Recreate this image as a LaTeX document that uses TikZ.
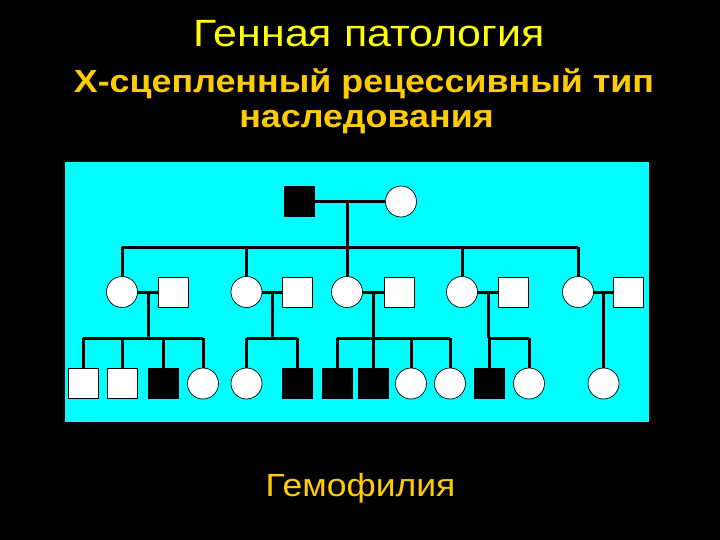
\documentclass[tikz,border=0pt]{standalone}
\usepackage{fontspec}
\setmainfont{Liberation Sans}
\definecolor{ttl}{RGB}{255,255,0}
\definecolor{sub}{RGB}{255,204,0}
\definecolor{bgc}{RGB}{0,255,255}
\begin{document}
\begin{tikzpicture}[x=1pt,y=-1pt,
  sq/.style={rectangle,draw=black,line width=0.7pt,fill=white,minimum size=30pt,inner sep=0pt},
  asq/.style={sq,fill=black},
  ci/.style={circle,draw=black,line width=0.7pt,fill=white,minimum size=31pt,inner sep=0pt},
  ln/.style={line width=3pt,black},
  txt/.style={anchor=base,inner sep=0pt}]
\fill[black] (0,0) rectangle (720,540);
\useasboundingbox (0,0) rectangle (720,540);
\fill[bgc] (65,162) rectangle (649,422);
% texts
\node[txt,text=ttl,font=\fontsize{38}{44}\selectfont] (t1) at (369,47) {\scalebox{1.13}[1]{Генная патология}};
\node[txt,text=sub,font=\fontsize{32}{38}\selectfont\bfseries] (t2) at (364,93) {\scalebox{1.12}[1]{Х-сцепленный рецессивный тип}};
\node[txt,text=sub,font=\fontsize{32}{38}\selectfont\bfseries] (t3) at (366.5,128) {\scalebox{1.12}[1]{наследования}};
\node[txt,text=sub,font=\fontsize{32}{38}\selectfont] (t4) at (360.5,496) {\scalebox{1.11}[1]{Гемофилия}};
% generation I
\node[asq] (A) at (299.5,201.5) {};
\node[ci] (B) at (401,201.5) {};
\coordinate (mAB) at (347,201.5);
\coordinate (sI) at (347,247);
\coordinate (sIl) at (122,247);
\coordinate (sIr) at (578,247);
% generation II
\foreach \n/\cx/\sx/\dx in {1/122/173.5/148, 2/246.5/297.5/272, 3/347/399.5/373, 4/462/513/488, 5/578/628.5/603.5}{
  \node[ci] (w\n) at (\cx,292) {};
  \node[sq] (h\n) at (\sx,292) {};
  \coordinate (m\n) at (\dx,292);
  \coordinate (s\n) at (\dx,338);
}
% generation III
\node[sq]  (k1) at (83,383.5) {};
\node[sq]  (k2) at (122.5,383.5) {};
\node[asq] (k3) at (163,383.5) {};
\node[ci]  (k4) at (203,383.5) {};
\node[ci]  (k5) at (246.5,383.5) {};
\node[asq] (k6) at (297,383.5) {};
\node[asq] (k7) at (337,383.5) {};
\node[asq] (k8) at (373.5,383.5) {};
\node[ci]  (k9) at (411,383.5) {};
\node[ci]  (k10) at (450,383.5) {};
\node[asq] (k11) at (489,383.5) {};
\node[ci]  (k12) at (529,383.5) {};
\node[ci]  (k13) at (603.5,383.5) {};
% connectors
\begin{scope}[ln]
\draw (A) -- (B);
\draw (mAB) -- (sI);
\draw (sIl) -- (sIr);
\foreach \n in {1,...,5}{
  \draw (w\n.north) -- (w\n.north |- sI);
  \draw (w\n) -- (h\n);
  \draw (m\n) -- (s\n);
}
\draw (k1.north |- s1) -- (k4.north |- s1);
\foreach \k in {1,2,3,4}{ \draw (k\k.north) -- (k\k.north |- s1); }
\draw (k5.north |- s2) -- (k6.north |- s2);
\foreach \k in {5,6}{ \draw (k\k.north) -- (k\k.north |- s2); }
\draw (k7.north |- s3) -- (k10.north |- s3);
\foreach \k in {7,8,9,10}{ \draw (k\k.north) -- (k\k.north |- s3); }
\draw (k11.north |- s4) -- (k12.north |- s4);
\foreach \k in {11,12}{ \draw (k\k.north) -- (k\k.north |- s4); }
\draw (k13.north) -- (s5);
\end{scope}
\end{tikzpicture}
\end{document}
